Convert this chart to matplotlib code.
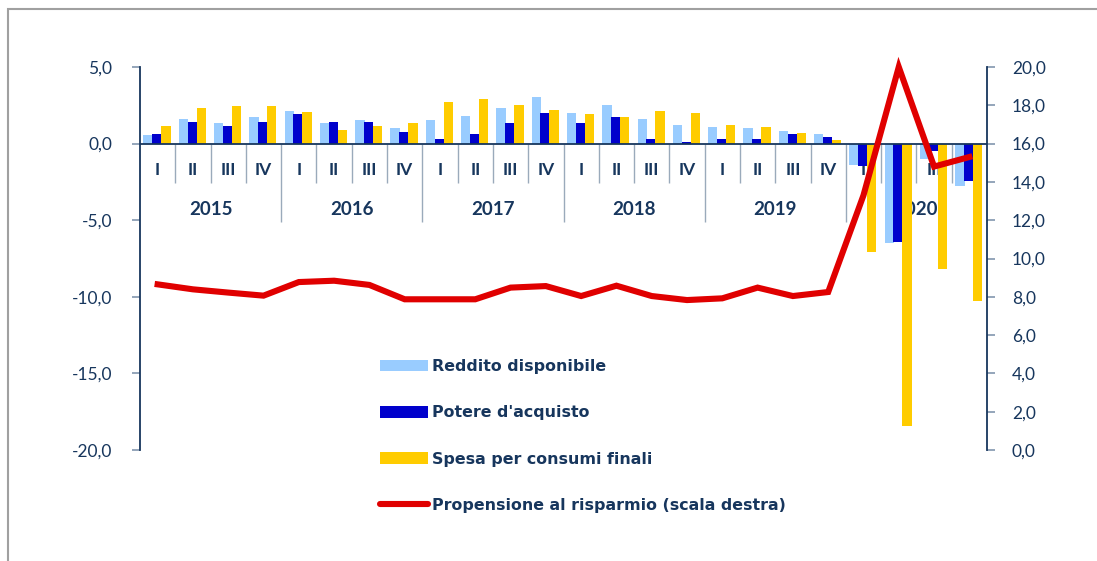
import matplotlib

matplotlib.use("Agg")
import matplotlib.pyplot as plt
from matplotlib.lines import Line2D
from matplotlib.patches import Patch, Rectangle

# quarterly data 2015-2020 (variazioni % and propensione al risparmio, %)
QUARTERS = ["I", "II", "III", "IV"] * 6
YEARS = ["2015", "2016", "2017", "2018", "2019", "2020"]
reddito = [0.54, 1.63, 1.32, 1.71, 2.10, 1.32, 1.52, 1.02, 1.52, 1.82, 2.32, 3.02,
           2.02, 2.52, 1.63, 1.24, 1.11, 1.02, 0.80, 0.61, -1.39, -6.47, -1.00, -2.78]
potere = [0.65, 1.43, 1.13, 1.43, 1.93, 1.43, 1.43, 0.74, 0.33, 0.65, 1.32, 2.02,
          1.32, 1.71, 0.33, 0.13, 0.33, 0.33, 0.63, 0.41, -1.48, -6.41, -0.50, -2.41]
spesa = [1.13, 2.35, 2.43, 2.43, 2.04, 0.91, 1.13, 1.32, 2.71, 2.93, 2.52, 2.21,
         1.91, 1.71, 2.10, 2.02, 1.22, 1.11, 0.72, 0.22, -7.08, -18.46, -8.17, -10.25]
propensione = [8.65, 8.39, 8.22, 8.06, 8.77, 8.84, 8.62, 7.87, 7.87, 7.87, 8.48, 8.56,
               8.04, 8.58, 8.04, 7.83, 7.92, 8.48, 8.04, 8.25, 13.3, 20.0, 14.8, 15.3]
LEFT_TICKS = [5, 0, -5, -10, -15, -20]
RIGHT_TICKS = [0, 2, 4, 6, 8, 10, 12, 14, 16, 18, 20]

NAVY = "#17365D"
TICK = "#8196AE"
SEP = "#9AAABB"
COLORS = {"reddito": "#99CCFF", "potere": "#0000CC", "spesa": "#FFCC00", "prop": "#E00000"}

plt.rcParams["font.family"] = ["Lato", "DejaVu Sans"]

fig = plt.figure(figsize=(10.97, 5.61), dpi=100)
ax = fig.add_axes([140 / 1097, 1 - 450 / 561, 847 / 1097, 383 / 561])
ax2 = ax.twinx()

x = list(range(len(QUARTERS)))
w = 0.265
ax.bar([i - 0.27 for i in x], reddito, w, color=COLORS["reddito"], zorder=2)
ax.bar([i - 0.02 for i in x], potere, w, color=COLORS["potere"], zorder=2)
ax.bar([i + 0.235 for i in x], spesa, w, color=COLORS["spesa"], zorder=2)
ax.axhline(0, color=NAVY, linewidth=1.3, zorder=3)

# multi-level category axis drawn under the bars
for i, q in enumerate(QUARTERS):
    ax.text(i, -1.7, q, ha="center", va="center", fontsize=12.5,
            fontweight="bold", color=NAVY, zorder=1)
for k, yr in enumerate(YEARS):
    ax.text(4 * k + 1.5, -4.3, yr, ha="center", va="center", fontsize=13.5,
            fontweight="bold", color=NAVY, zorder=1)
for i in range(len(QUARTERS) - 1):
    bottom = -5.1 if (i + 1) % 4 == 0 else -2.6
    ax.vlines(i + 0.5, bottom, 0, color=SEP, linewidth=1.0, zorder=1)

ax.set_xlim(-0.5, len(QUARTERS) - 0.5)
ax.set_ylim(-20, 5)
ax.set_yticks(LEFT_TICKS, [f"{v:.1f}".replace(".", ",") for v in LEFT_TICKS])
ax.set_xticks([])

ax2.plot(x, propensione, color=COLORS["prop"], linewidth=4.4,
         solid_joinstyle="miter", clip_on=False, zorder=4)
ax2.set_ylim(0, 20)
ax2.set_yticks(RIGHT_TICKS, [f"{v:.1f}".replace(".", ",") for v in RIGHT_TICKS])

for a in (ax, ax2):
    for side in ("top", "bottom"):
        a.spines[side].set_visible(False)
    a.tick_params(axis="y", direction="out", length=6, width=1.2, color=TICK,
                  labelsize=12.5, labelcolor=NAVY)
ax.spines["right"].set_visible(False)
ax2.spines["left"].set_visible(False)
ax.spines["left"].set_color(NAVY)
ax.spines["left"].set_linewidth(1.3)
ax2.spines["right"].set_color(NAVY)
ax2.spines["right"].set_linewidth(1.3)
ax.tick_params(axis="y", pad=14)
ax2.tick_params(axis="y", pad=12)

handles = [
    Patch(facecolor=COLORS["reddito"], label="Reddito disponibile"),
    Patch(facecolor=COLORS["potere"], label="Potere d'acquisto"),
    Patch(facecolor=COLORS["spesa"], label="Spesa per consumi finali"),
    Line2D([], [], color=COLORS["prop"], linewidth=4.4, solid_capstyle="round",
           label="Propensione al risparmio (scala destra)"),
]
leg = fig.legend(handles=handles, loc="upper left", bbox_to_anchor=(380 / 1097, 1 - 359 / 561),
                 frameon=False, borderpad=0, borderaxespad=0, handlelength=3.03,
                 handleheight=0.75, handletextpad=0.25, labelspacing=1.98,
                 prop={"family": "DejaVu Sans", "size": 11.4, "weight": "bold"})
for t in leg.get_texts():
    t.set_color(NAVY)

# outer frame of the original exhibit
fig.patches.append(Rectangle((8 / 1097, -0.05), 1.2, 1.05 - 9 / 561, transform=fig.transFigure,
                             fill=False, edgecolor="#A0A0A0", linewidth=1.5))

fig.savefig("out.png", dpi=100)
